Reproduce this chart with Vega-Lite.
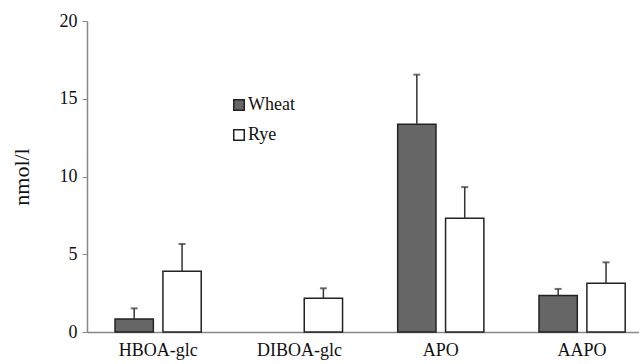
{
  "$schema": "https://vega.github.io/schema/vega-lite/v6.json",
  "width": 552,
  "height": 311,
  "autosize": {"type": "none"},
  "padding": {"left": 87, "top": 21, "right": 0, "bottom": 32},
  "background": "white",
  "config": {
    "view": {"stroke": null},
    "font": "Liberation Serif",
    "axis": {"labelFont": "Liberation Serif", "titleFont": "Liberation Serif"},
    "legend": {"labelFont": "Liberation Serif", "titleFont": "Liberation Serif"}
  },
  "data": {
    "values": [
      {"compound": "HBOA-glc", "grain": "Wheat", "value": 0.84, "upper": 1.52},
      {"compound": "HBOA-glc", "grain": "Rye", "value": 3.9, "upper": 5.66},
      {"compound": "DIBOA-glc", "grain": "Rye", "value": 2.17, "upper": 2.81},
      {"compound": "APO", "grain": "Wheat", "value": 13.36, "upper": 16.55},
      {"compound": "APO", "grain": "Rye", "value": 7.31, "upper": 9.32},
      {"compound": "AAPO", "grain": "Wheat", "value": 2.34, "upper": 2.77},
      {"compound": "AAPO", "grain": "Rye", "value": 3.13, "upper": 4.48}
    ]
  },
  "encoding": {
    "x": {
      "field": "compound",
      "type": "nominal",
      "sort": ["HBOA-glc", "DIBOA-glc", "APO", "AAPO"],
      "scale": {"paddingInner": 0.39, "paddingOuter": 0.148, "align": 0.67},
      "axis": {
        "title": null,
        "labelAngle": 0,
        "ticks": false,
        "labelPadding": 9,
        "labelFontSize": 18,
        "labelColor": "#111",
        "domainColor": "#888",
        "domainWidth": 1.5
      }
    },
    "xOffset": {
      "field": "grain",
      "type": "nominal",
      "sort": ["Wheat", "Rye"],
      "scale": {"domain": ["Wheat", "Rye"], "paddingInner": 0.2, "paddingOuter": 0}
    }
  },
  "layer": [
    {
      "mark": {"type": "bar", "stroke": "#222", "strokeWidth": 1.5},
      "encoding": {
        "y": {
          "field": "value",
          "type": "quantitative",
          "scale": {"domain": [0, 20]},
          "axis": {
            "title": "nmol/l",
            "titleFontSize": 22,
            "titleFontWeight": "normal",
            "titleColor": "#111",
            "titlePadding": 26,
            "values": [0, 5, 10, 15, 20],
            "grid": false,
            "tickSize": 5,
            "tickColor": "#888",
            "domainColor": "#888",
            "domainWidth": 1.5,
            "labelFontSize": 18,
            "labelColor": "#111",
            "labelPadding": 5
          }
        },
        "fill": {
          "field": "grain",
          "type": "nominal",
          "sort": ["Wheat", "Rye"],
          "scale": {"domain": ["Wheat", "Rye"], "range": ["#666666", "#ffffff"]},
          "legend": {
            "title": null,
            "orient": "none",
            "legendX": 143,
            "legendY": 75,
            "padding": 0,
            "symbolType": "square",
            "symbolSize": 110,
            "symbolStrokeColor": "#222",
            "symbolStrokeWidth": 1.5,
            "labelFontSize": 18,
            "labelColor": "#111",
            "labelOffset": 0,
            "rowPadding": 12
          }
        }
      }
    },
    {
      "mark": {"type": "rule", "color": "#333", "strokeWidth": 1.5},
      "encoding": {
        "y": {"field": "value", "type": "quantitative"},
        "y2": {"field": "upper"}
      }
    },
    {
      "mark": {"type": "tick", "color": "#333", "thickness": 2, "size": 7, "orient": "horizontal"},
      "encoding": {
        "y": {"field": "upper", "type": "quantitative"}
      }
    }
  ]
}
